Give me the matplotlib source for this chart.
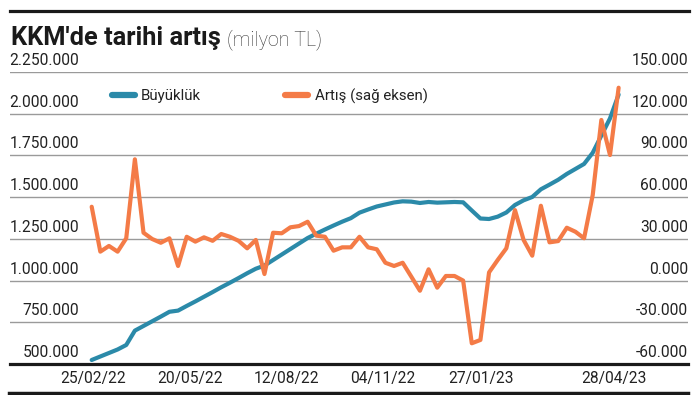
import matplotlib
matplotlib.use("Agg")
import matplotlib.pyplot as plt
from matplotlib.lines import Line2D
from matplotlib.transforms import offset_copy

# ---------------- data ----------------
title = "KKM'de tarihi artış"
subtitle = "(milyon TL)"
series_names = ["Büyüklük", "Artış (sağ eksen)"]

# weekly observations, 25/02/22 .. 28/04/23 (62 weeks)
size_values = [
    524000, 545000, 566000, 587000, 614000, 700000, 728000, 756000, 784000, 813000,
    820000, 848000, 875000, 903000, 931000, 960000, 987000, 1015000, 1044000, 1071000,
    1090000, 1123000, 1156000, 1189000, 1222000, 1255000, 1281000, 1306000, 1330000, 1353000,
    1374000, 1407000, 1426000, 1444000, 1456000, 1468000, 1475000, 1473000, 1465000, 1471000,
    1467000, 1469000, 1471000, 1469000, 1420000, 1372000, 1369000, 1383000, 1408000, 1453000,
    1481000, 1501000, 1547000, 1575000, 1604000, 1639000, 1669000, 1699000, 1766000, 1869000,
    1972000, 2115000,
]
increase_values = [
    53100, 20800, 24900, 20800, 30400, 87200, 34400, 29900, 27200, 30400,
    10500, 31500, 28000, 31100, 28600, 33500, 31500, 28600, 23200, 29200,
    4700, 34400, 34000, 38300, 39200, 42300, 32300, 31500, 21500, 23900,
    23900, 31500, 23900, 22500, 12800, 10500, 12800, 2800, -7300, 8100,
    -5100, 3300, 3300, 0, -45100, -42700, 5900, 14800, 23200, 50700,
    29200, 17900, 53800, 27500, 28400, 38000, 35100, 30400, 61500, 115500,
    90300, 138700,
]
x_labels = ["25/02/22", "20/05/22", "12/08/22", "04/11/22", "27/01/23", "28/04/23"]
left_ticks = [500000, 750000, 1000000, 1250000, 1500000, 1750000, 2000000, 2250000]
left_tick_labels = ["500.000", "750.000", "1.000.000", "1.250.000", "1.500.000",
                    "1.750.000", "2.000.000", "2.250.000"]
right_ticks = [-60000, -30000, 0, 30000, 60000, 90000, 120000, 150000]
right_tick_labels = ["-60.000", "-30.000", "0.000", "30.000", "60.000",
                     "90.000", "120.000", "150.000"]

# ---------------- style / layout ----------------
BLUE = "#2b8aa9"
ORANGE = "#f47b47"
TXT = "#222222"
GRID = "#9a9a9a"
FONT = ["Roboto", "DejaVu Sans"]
x_label_pos = [0.15, 11.4, 22.6, 33.7, 45.1, 60.5]

W, H = 699, 395
fig = plt.figure(figsize=(W / 100, H / 100), dpi=100)
fx = lambda px: px / W
fy = lambda py: 1 - py / H

ax = fig.add_axes([fx(10), fy(364), fx(688) - fx(10), fy(72) - fy(364)])
ax2 = ax.twinx()

idx = list(range(len(size_values)))
ax.plot(idx, size_values, color=BLUE, lw=3.0, solid_capstyle="round",
        solid_joinstyle="round", zorder=3)
ax2.plot(idx, increase_values, color=ORANGE, lw=3.0, solid_capstyle="round",
         solid_joinstyle="round", zorder=3)

ax.set_xlim(-9.456, 69.03)
ax.set_ylim(500000, 2250000)
ax2.set_ylim(-60000, 150000)

for a in (ax, ax2):
    for s in a.spines.values():
        s.set_visible(False)

ax.set_yticks(left_ticks[1:])
ax.yaxis.grid(True, color=GRID, lw=1.0)
ax.set_axisbelow(True)
ax.tick_params(axis="y", left=False, labelleft=False)
ax2.set_yticks([])
ax2.tick_params(axis="y", right=False, labelright=False)

ax.axhline(500000, color="#1a1a1a", lw=2.3, zorder=4, clip_on=False)

ax.set_xticks(x_label_pos, x_labels)
ax.tick_params(axis="x", length=0, pad=5, labelsize=11.2, labelcolor=TXT)
for lab in ax.get_xticklabels():
    lab.set_family(FONT)

# y tick labels (above gridlines)
tl = offset_copy(ax.get_yaxis_transform(), fig=fig, y=4, units="dots")
for v, s in zip(left_ticks, left_tick_labels):
    ax.text((79 - 10) / 678, v, s, transform=tl, ha="right", va="bottom",
            fontsize=11.2, color=TXT, family=FONT)
tr = offset_copy(ax2.get_yaxis_transform(), fig=fig, y=4, units="dots")
for v, s in zip(right_ticks, right_tick_labels):
    ax2.text(1.0, v, s, transform=tr, ha="right", va="bottom",
             fontsize=11.2, color=TXT, family=FONT)

# legend
handles = [Line2D([], [], color=BLUE, lw=4.5, solid_capstyle="round"),
           Line2D([], [], color=ORANGE, lw=4.5, solid_capstyle="round")]
leg = fig.legend(handles, series_names, ncol=2, frameon=False,
                 loc="center left", bbox_to_anchor=(fx(112), fy(96)),
                 borderaxespad=0, borderpad=0, handlelength=1.5,
                 handletextpad=0.45, columnspacing=5.6,
                 prop={"family": FONT, "size": 10.8})
for t in leg.get_texts():
    t.set_color(TXT)

# title
t1 = fig.text(fx(11), fy(45), title, fontsize=18.3, fontweight="bold",
              family=FONT, color="#1a1a1a", va="baseline", ha="left")
fig.canvas.draw()
bb = t1.get_window_extent()
fig.text((bb.x1 + 6) / W, fy(45), subtitle, fontsize=14.2, fontweight="light",
         family=FONT, color="#333333", va="baseline", ha="left")

# rules
fig.add_artist(Line2D([fx(10), fx(689)], [fy(11), fy(11)], color="#1a1a1a", lw=2.3))
fig.add_artist(Line2D([fx(10), fx(688)], [fy(393.5), fy(393.5)], color="#1a1a1a", lw=3.2))

fig.savefig("out.png", dpi=100)
